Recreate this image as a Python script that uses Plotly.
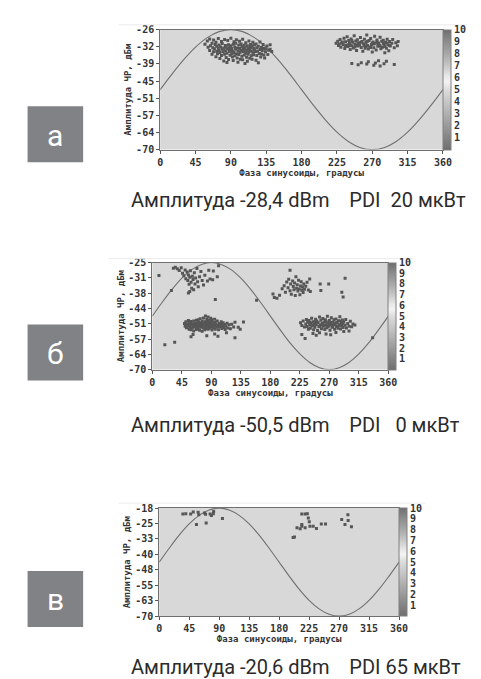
import plotly.graph_objects as go

W, H = 481, 679

# ---------------- data ----------------
phase_ticks = [0, 45, 90, 135, 180, 225, 270, 315, 360]
sine_x = [0, 15, 30, 45, 60, 75, 90, 105, 120, 135, 150, 165, 180, 195, 210, 225, 240, 255, 270, 285, 300, 315, 330, 345, 360]

# panel а
a_yrange = [-70, -26]
a_yticks = ["-70", "-64", "-57", "-51", "-45", "-39", "-32", "-26"]
a_sine = [-48, -42.3, -37, -32.4, -28.9, -26.7, -26, -26.7, -28.9, -32.4, -37, -42.3, -48, -53.7, -59, -63.6, -67.1, -69.3, -70, -69.3, -67.1, -63.6, -59, -53.7, -48]
a_pts = [(57,-31.3),(60,-30.1),(61,-32.4),(63,-29.4),(63,-33.6),(64,-31.9),(66,-31.0),(66,-35.0),(67,-32.6),(68,-29.8),(68,-34.1),(69,-33.0),(70,-31.4),(71,-30.6),(71,-35.9),(72,-32.1),(72,-33.9),(73,-34.8),(74,-29.2),(74,-32.8),(75,-31.6),(75,-33.5),(76,-36.6),(76,-34.4),(77,-32.3),(78,-30.3),(78,-35.5),(79,-33.2),(79,-31.1),(80,-34.1),(81,-37.5),(81,-32.7),(82,-29.6),(82,-35.0),(83,-33.7),(83,-31.8),(84,-32.4),(84,-36.2),(85,-38.0),(85,-34.6),(86,-30.0),(86,-33.1),(87,-36.9),(87,-31.5),(88,-34.0),(88,-32.6),(89,-35.4),(89,-33.5),(90,-29.1),(90,-31.9),(91,-34.8),(91,-32.9),(92,-36.0),(92,-33.8),(93,-37.3),(93,-31.3),(94,-30.4),(94,-34.4),(95,-32.3),(95,-35.6),(96,-33.2),(96,-31.0),(97,-29.7),(97,-34.9),(98,-32.7),(98,-36.4),(99,-37.9),(99,-33.9),(100,-31.6),(100,-35.1),(101,-30.2),(101,-32.9),(102,-34.3),(102,-36.8),(103,-33.4),(103,-31.2),(104,-35.7),(104,-32.2),(105,-29.5),(105,-37.0),(106,-34.0),(106,-33.0),(107,-31.7),(107,-35.3),(108,-38.4),(108,-32.6),(109,-30.8),(109,-34.6),(110,-33.6),(110,-36.1),(111,-37.6),(111,-31.9),(112,-32.9),(112,-35.0),(113,-30.1),(113,-34.2),(114,-33.3),(114,-36.5),(115,-31.4),(115,-32.5),(116,-35.6),(116,-33.8),(117,-36.8),(117,-31.9),(118,-30.6),(118,-34.5),(119,-32.8),(119,-35.2),(120,-33.4),(120,-31.5),(121,-34.0),(122,-31.2),(122,-37.2),(123,-32.6),(123,-35.5),(124,-33.9),(125,-38.1),(125,-32.1),(126,-34.7),(127,-30.5),(127,-33.3),(128,-36.0),(129,-32.5),(129,-34.9),(130,-33.6),(131,-31.4),(132,-35.3),(132,-32.8),(133,-36.4),(134,-34.1),(134,-33.0),(136,-32.0),(137,-35.1),(138,-33.5),(140,-31.5),(140,-33.2),(142,-34.0),
(224,-31.0),(226,-30.2),(227,-31.8),(229,-29.6),(230,-32.4),(231,-30.9),(233,-31.5),(234,-29.1),(235,-32.9),(236,-30.4),(237,-31.7),(238,-28.6),(239,-32.2),(240,-30.0),(241,-31.1),(242,-33.3),(243,-29.4),(244,-31.9),(245,-30.6),(246,-32.7),(247,-28.2),(248,-31.3),(249,-30.1),(250,-33.6),(251,-29.7),(252,-32.0),(253,-30.8),(254,-31.6),(255,-28.9),(256,-32.5),(257,-30.3),(258,-33.9),(259,-31.2),(260,-29.5),(261,-32.8),(262,-30.7),(263,-27.9),(264,-31.8),(265,-33.1),(266,-30.0),(267,-32.3),(268,-29.2),(269,-31.4),(270,-34.2),(271,-30.5),(272,-32.6),(273,-28.4),(274,-31.0),(275,-33.4),(276,-29.8),(277,-32.1),(278,-30.9),(279,-31.7),(280,-28.8),(281,-33.0),(282,-30.2),(283,-32.4),(284,-29.9),(285,-31.3),(286,-34.5),(287,-30.6),(288,-32.8),(289,-29.5),(290,-31.5),(291,-33.7),(292,-30.3),(293,-32.0),(295,-31.0),(296,-29.6),(298,-32.6),(300,-30.8),(302,-31.9),(303,-30.3),
(228,-31.2),(232,-30.5),(236,-32.0),(240,-31.5),(244,-30.0),(248,-32.3),(252,-31.0),(256,-30.6),(260,-31.9),(264,-30.2),(268,-32.5),(272,-31.2),(276,-30.4),(280,-32.0),(284,-31.0),(288,-30.9),(292,-31.7),(262,-32.2),(270,-31.0),(278,-31.6),(250,-31.7),(242,-31.8),(286,-32.2),
(244,-38.4),(252,-38.9),(256,-38.1),(263,-38.6),(265,-37.8),(272,-39.0),(274,-38.2),(278,-37.4),(280,-39.3),(285,-38.5),(298,-38.8),(288,-37.6)]

# panel б
b_yrange = [-70, -25]
b_yticks = ["-70", "-64", "-57", "-51", "-44", "-38", "-31", "-25"]
b_sine = [-47.5, -41.7, -36.3, -31.6, -28, -25.8, -25, -25.8, -28, -31.6, -36.3, -41.7, -47.5, -53.3, -58.8, -63.4, -67, -69.2, -70, -69.2, -67, -63.4, -58.8, -53.3, -47.5]
b_pts = [(10,-30.5),(29,-36.8),(32,-27.4),(35,-27.0),(38,-27.6),(41,-28.3),(44,-27.2),(46,-29.5),(48,-30.6),(50,-28.1),(51,-31.8),(53,-29.0),(54,-32.6),(55,-30.2),(56,-34.1),(57,-31.2),(58,-28.5),(59,-33.3),(60,-35.8),(61,-30.8),(62,-32.1),(63,-36.4),(64,-29.3),(65,-34.0),(66,-31.5),(68,-27.5),(69,-33.1),(70,-35.2),(72,-31.0),(74,-28.8),(76,-32.5),(78,-34.4),(80,-30.3),(84,-32.8),(86,-28.2),(88,-31.9),(92,-32.2),(93,-28.6),(96,-40.5),(55,-37.8),(57,-37.2),(101,-26.4),(99,-31.0),
(49,-50.6),(50,-51.8),(51,-49.9),(52,-52.4),(53,-50.9),(54,-51.5),(55,-49.4),(56,-53.0),(56,-50.3),(57,-52.0),(58,-51.1),(59,-49.8),(59,-53.3),(60,-50.7),(61,-52.5),(62,-51.4),(63,-49.6),(63,-53.8),(64,-50.9),(65,-52.1),(66,-51.0),(67,-49.3),(67,-53.1),(68,-50.4),(69,-52.7),(70,-51.6),(70,-49.0),(71,-50.2),(72,-53.5),(72,-51.3),(73,-48.6),(74,-52.2),(74,-50.6),(75,-51.8),(76,-49.7),(76,-53.9),(77,-50.9),(78,-52.5),(78,-48.3),(79,-51.2),(80,-49.9),(80,-53.2),(81,-47.5),(81,-50.6),(82,-52.0),(83,-48.9),(83,-51.4),(84,-50.0),(85,-53.0),(85,-47.9),(86,-51.7),(87,-49.4),(87,-52.6),(88,-50.5),(89,-48.4),(89,-51.9),(90,-50.1),(91,-53.4),(91,-49.1),(92,-51.3),(93,-52.4),(94,-50.4),(95,-48.8),(95,-51.6),(96,-53.0),(97,-50.8),(98,-52.1),(99,-49.6),(100,-51.4),(101,-53.3),(102,-50.6),(103,-52.0),(104,-51.1),(105,-49.9),(106,-52.7),(107,-51.5),(108,-50.3),(109,-52.3),(110,-51.0),(111,-53.1),(112,-51.8),(114,-50.5),(115,-52.5),(117,-51.2),(119,-52.8),(121,-50.9),(124,-52.1),(126,-50.1),(131,-52.2),(134,-53.0),(139,-50.0),
(60,-51.2),(65,-50.6),(70,-52.2),(75,-50.3),(80,-51.9),(85,-50.8),(90,-51.4),(95,-50.2),(100,-52.0),(68,-51.7),(78,-50.8),(88,-52.3),(73,-51.2),(83,-52.7),(93,-50.9),(63,-51.9),(58,-50.2),(105,-51.0),
(19,-59.6),(34,-58.5),(59,-56.2),(62,-55.2),(126,-56.6),(83,-55.8),(95,-55.0),(113,-54.5),(100,-56.0),
(159,-40.9),(184,-38.2),(186,-39.7),(190,-40.0),(194,-38.8),(198,-36.0),(201,-34.8),(203,-37.5),(205,-33.2),(207,-35.6),(208,-32.0),(210,-28.2),(210,-36.9),(211,-34.0),(212,-38.3),(214,-32.8),(215,-35.1),(216,-36.4),(217,-33.6),(218,-38.9),(219,-31.0),(220,-35.8),(221,-34.3),(222,-37.0),(223,-32.4),(224,-36.1),(225,-38.5),(226,-34.9),(227,-33.1),(228,-36.7),(229,-35.3),(230,-37.6),(231,-34.0),(232,-36.2),(234,-35.0),(236,-33.3),(238,-36.5),(240,-31.9),(241,-37.2),(256,-34.0),(257,-36.8),(269,-34.0),(289,-37.5),(291,-39.5),(294,-31.6),
(226,-50.3),(228,-51.5),(230,-49.6),(232,-52.1),(234,-50.8),(235,-48.9),(236,-51.9),(237,-50.1),(238,-53.0),(239,-49.4),(240,-51.3),(241,-52.6),(242,-50.5),(243,-48.4),(244,-51.7),(245,-49.9),(246,-53.3),(247,-50.9),(248,-52.2),(249,-48.8),(250,-51.0),(251,-49.6),(252,-53.6),(253,-50.3),(254,-52.0),(255,-47.9),(256,-51.4),(257,-49.3),(258,-52.8),(259,-50.6),(260,-48.5),(261,-51.8),(262,-50.0),(263,-53.1),(264,-49.0),(265,-51.2),(266,-52.4),(267,-47.6),(268,-50.4),(269,-51.6),(270,-49.4),(271,-53.5),(272,-50.9),(273,-48.2),(274,-52.2),(275,-50.1),(276,-51.3),(277,-49.1),(278,-53.0),(279,-50.7),(280,-48.7),(281,-51.9),(282,-50.2),(283,-52.6),(284,-49.5),(285,-51.1),(286,-47.8),(287,-52.9),(288,-50.5),(289,-51.7),(290,-49.2),(291,-52.3),(292,-50.0),(294,-51.4),(295,-48.9),(296,-52.5),(298,-50.6),(300,-51.8),(302,-49.7),(304,-52.0),(306,-50.8),(309,-51.3),
(240,-50.2),(245,-51.4),(250,-50.0),(255,-51.9),(260,-50.9),(265,-49.8),(270,-51.1),(275,-52.0),(280,-50.3),(285,-51.5),(290,-50.7),(258,-51.2),(268,-52.0),(278,-51.0),(248,-49.9),(288,-49.6),(262,-51.5),(272,-50.2),
(228,-55.2),(233,-56.9),(245,-54.8),(255,-54.5),(265,-55.0),(272,-55.3),(280,-54.4),(292,-54.0),(300,-53.8),(250,-55.6),(336,-56.6)]

# panel в
c_yrange = [-70, -18]
c_yticks = ["-70", "-63", "-55", "-48", "-40", "-33", "-25", "-18"]
c_sine = [-44, -37.3, -31, -25.6, -21.5, -18.9, -18, -18.9, -21.5, -25.6, -31, -37.3, -44, -50.7, -57, -62.4, -66.5, -69.1, -70, -69.1, -66.5, -62.4, -57, -50.7, -44]
c_pts = [(35.5,-20.8),(39.9,-20.7),(47.2,-20.8),(51.1,-19.9),(58.4,-20.0),(59.4,-21.2),(68.1,-20.4),(69.6,-21.0),(76.4,-20.8),(78.3,-21.6),(81.2,-20.7),(81.7,-19.6),(55.9,-25.9),(70.5,-25.2),(94.9,-23.0),
(201,-32.2),(203,-31.9),(206.8,-27.5),(211.6,-27.9),(214,-25.9),(214,-26.7),(214,-20.8),(219,-20.8),(222.3,-20.7),(223.8,-22.7),(225.2,-24.6),(219,-27.5),(226.2,-26.7),(231.1,-26.7),(236,-27.8),(243.3,-25.6),(249.6,-25.6),(273.9,-23.5),(283.2,-21.2),(283.6,-24.0),(278.8,-25.9),(288.5,-27.0)]

NB = "\u00a0"
captions = ["Амплитуда -28,4 dBm" + NB * 4 + "PDI" + NB * 2 + "20 мкВт",
            "Амплитуда -50,5 dBm" + NB * 4 + "PDI" + NB * 3 + "0 мкВт",
            "Амплитуда -20,6 dBm" + NB * 4 + "PDI 65 мкВт"]
letters = ["а", "б", "в"]
cbar_ticks = [1, 2, 3, 4, 5, 6, 7, 8, 9, 10]

# ---------------- layout helpers ----------------
def px(x):
    return x / W

def py(y):
    return 1 - y / H

panels = [
    dict(pts=a_pts, sine=a_sine, yr=a_yrange, yt=a_yticks, box=(153, 443, 16, 138), cap_y=189, lab=(94, 151), edge=(11, 110, 468)),
    dict(pts=b_pts, sine=b_sine, yr=b_yrange, yt=b_yticks, box=(145, 387, 253, 362), cap_y=418, lab=(316, 373), edge=(249, 100, 412)),
    dict(pts=c_pts, sine=c_sine, yr=c_yrange, yt=c_yticks, box=(152, 398, 503, 613), cap_y=665, lab=(567, 624), edge=(498, 110, 425)),
]

gray_scale = [[0.0, "#6e6e6e"], [0.1, "#848484"], [0.2, "#9a9a9a"], [0.3, "#b0b0b0"], [0.4, "#c6c6c6"],
              [0.5, "#dcdcdc"], [0.57, "#f4f4f4"], [0.62, "#e6e6e6"], [0.7, "#c8c8c8"], [0.8, "#a8a8a8"],
              [0.9, "#8e8e8e"], [1.0, "#6e6e6e"]]

mono = "DejaVu Sans Mono"
tickfont = dict(family=mono, size=10, color="#333333", weight="bold")
titlefont = dict(family=mono, size=9, color="#333333", weight="bold")

fig = go.Figure()
shapes = []
annotations = []

for i, p in enumerate(panels):
    n = "" if i == 0 else str(i + 1)
    xa, ya = "x" + n, "y" + n
    x0, x1, y0, y1 = p["box"]
    lo, hi = p["yr"]
    tv = [lo + k * (hi - lo) / 7 for k in range(8)]

    fig.add_trace(go.Scatter(x=sine_x, y=p["sine"], mode="lines", line=dict(color="#707070", width=1.1, shape="spline"),
                             xaxis=xa, yaxis=ya, showlegend=False, hoverinfo="skip"))
    fig.add_trace(go.Scatter(x=[q[0] for q in p["pts"]], y=[q[1] for q in p["pts"]], mode="markers",
                             marker=dict(symbol="square", size=3, color="#565656", line=dict(width=0)),
                             xaxis=xa, yaxis=ya, showlegend=False))
    cbar = dict(x=px(x1), xanchor="left", xpad=0, thickness=8,
                len=(y1 - y0) / H, lenmode="fraction",
                y=py((y0 + y1) / 2), yanchor="middle", ypad=0,
                outlinewidth=1, outlinecolor="#808080",
                tickvals=cbar_ticks, ticks="", tickfont=tickfont)
    fig.add_trace(go.Scatter(x=[None], y=[None], mode="markers", xaxis=xa, yaxis=ya, showlegend=False,
                             marker=dict(color=[0], cmin=0, cmax=10, colorscale=gray_scale, showscale=True,
                                         colorbar=cbar)))

    fig.layout["xaxis" + n] = dict(domain=[px(x0), px(x1)], anchor=ya, range=[0, 360], tickvals=phase_ticks,
                                   ticks="outside", ticklen=3, tickcolor="#555555", tickfont=tickfont,
                                   showgrid=False, zeroline=False, showline=True, linecolor="#707070",
                                   linewidth=1, mirror=True,
                                   title=dict(text="Фаза синусоиды, градусы", font=titlefont, standoff=0))
    fig.layout["yaxis" + n] = dict(domain=[py(y1), py(y0)], anchor=xa, range=[lo, hi], tickvals=tv,
                                   ticktext=p["yt"], ticks="outside", ticklen=3, tickcolor="#555555",
                                   tickfont=tickfont, showgrid=False, zeroline=False, showline=True,
                                   linecolor="#707070", linewidth=1, mirror=True,
                                   title=dict(text="Амплитуда ЧР, дБм", font=titlefont, standoff=2))

    shapes.append(dict(type="rect", xref="paper", yref="paper", x0=px(x0), x1=px(x1), y0=py(y1), y1=py(y0),
                       fillcolor="#d8d8d8", line=dict(width=0), layer="below"))
    ey, ex0, ex1 = p["edge"]
    shapes.append(dict(type="line", xref="paper", yref="paper", x0=px(ex0), x1=px(ex1), y0=py(ey), y1=py(ey),
                       line=dict(color="#ececec", width=1)))
    ly0, ly1 = p["lab"]
    shapes.append(dict(type="rect", xref="paper", yref="paper", x0=px(17), x1=px(74), y0=py(ly1), y1=py(ly0),
                       fillcolor="#808285", line=dict(width=0)))
    annotations.append(dict(text=letters[i], xref="paper", yref="paper", x=px(45.5), y=py((ly0 + ly1) / 2 + 1),
                            xanchor="center", yanchor="middle", showarrow=False,
                            font=dict(family="Roboto", size=30, color="white")))
    annotations.append(dict(text=captions[i], xref="paper", yref="paper", x=px(121), y=py(p["cap_y"]),
                            xanchor="left", yanchor="middle", showarrow=False,
                            font=dict(family="Roboto", size=20, color="#2b2b2b")))

fig.update_layout(width=W, height=H, autosize=False, margin=dict(l=0, r=0, t=0, b=0),
                  paper_bgcolor="white", plot_bgcolor="rgba(0,0,0,0)", shapes=shapes, annotations=annotations)

fig.write_html("out.html")
